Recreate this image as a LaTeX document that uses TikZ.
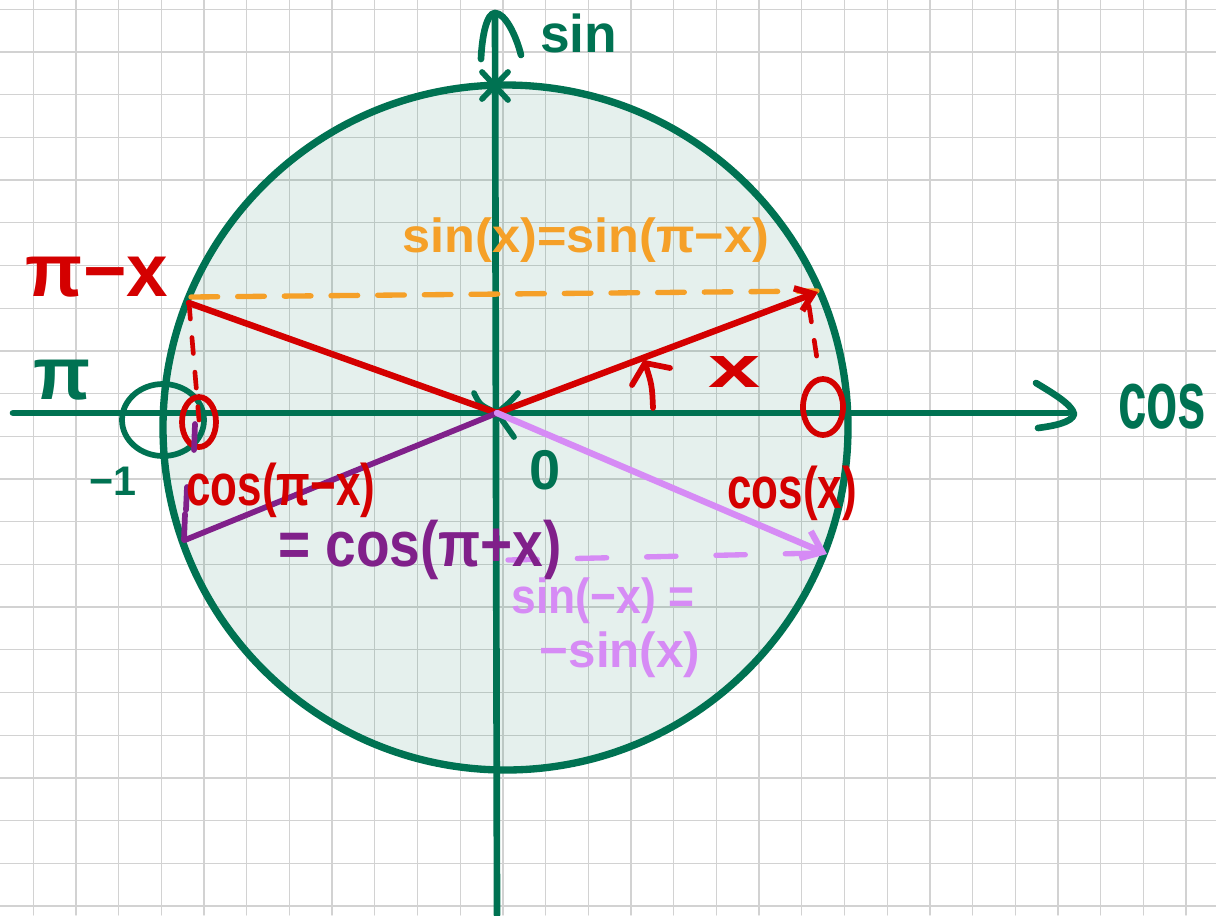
\documentclass[tikz,border=0pt]{standalone}
\usepackage{fontspec}
\setmainfont{Liberation Sans}
\usetikzlibrary{arrows.meta}
\definecolor{dgreen}{RGB}{0,114,82}
\definecolor{hred}{RGB}{212,0,0}
\definecolor{horange}{RGB}{245,160,40}
\definecolor{hpurple}{RGB}{128,32,138}
\definecolor{hlilac}{RGB}{214,139,245}
\definecolor{gridgray}{RGB}{210,210,210}
\newcommand{\hw}[3]{\fontsize{#1}{#1}\selectfont\bfseries\scalebox{#2}[1]{#3}}
\begin{document}
\begin{tikzpicture}[x=0.75pt,y=-0.75pt, line cap=round, line join=round,
  gridline/.style={draw=gridgray, line width=1pt},
  axisline/.style={draw=dgreen, line width=5pt},
  redline/.style={draw=hred, line width=4.8pt},
  reddash/.style={draw=hred, line width=3.5pt, dash pattern=on 12pt off 14pt},
  orangedash/.style={draw=horange, line width=4pt, dash pattern=on 20pt off 15pt},
  purpleline/.style={draw=hpurple, line width=4.3pt},
  lilacline/.style={draw=hlilac, line width=4.8pt},
  lilacdash/.style={draw=hlilac, line width=4pt, dash pattern=on 22pt off 30pt},
  lbl/.style={inner sep=0pt, outer sep=0pt}
]
\useasboundingbox (0,0) rectangle (1216,915);
\clip (0,0) rectangle (1216,915);
\fill[white] (0,0) rectangle (1216,915);
% grid
\foreach \k in {0,...,27} \draw[gridline] ({33.2+42.7*\k},0) -- ({33.2+42.7*\k},915);
\foreach \k in {0,...,21} \draw[gridline] (0,{9.3+42.7*\k}) -- (1216,{9.3+42.7*\k});
% circle
\coordinate (C) at (505.5,427.5);
\fill[dgreen, fill opacity=0.1] (C) circle [radius=256.875pt];
\draw[dgreen, line width=5.5pt] (C) circle [radius=256.875pt];
% axes
\coordinate (O) at (497,413);
\coordinate (xL) at (13,413);
\coordinate (xR) at (1068,413);
\coordinate (yB) at (497,915);
\coordinate (yT) at (495,13);
\draw[axisline] (xL) -- (xR);
\draw[axisline] (yB) -- (yT);
\draw[axisline] (1036,383) .. controls (1056,395) and (1072,405) .. (1074,414) .. controls (1072,423) and (1052,426) .. (1038,428);
\draw[axisline] (481,59) .. controls (482,35) and (487,13) .. (495,13) .. controls (505,13) and (516,35) .. (521,55);
% star on top
\draw[dgreen, line width=4.3pt] (482,72) -- (508,100) (482,99) -- (508,72);
% origin mark
\draw[dgreen, line width=4.3pt] (474,393) .. controls (480,405) .. (O) .. controls (510,402) .. (518,393);
\draw[dgreen, line width=4.3pt] (O) -- (514,437);
% green circle around -1
\draw[dgreen, line width=4.3pt] (163,420) ellipse [x radius=30.75pt, y radius=27pt];
% orange dashed line
\coordinate (oL) at (191,297);
\coordinate (oR) at (817,291);
\draw[orangedash] (oL) -- (oR);
% red lines
\coordinate (P) at (818,292);
\coordinate (Q) at (189,303);
\draw[redline, -{Straight Barb[length=12pt,width=18pt]}] (O) -- (P);
\draw[redline] (O) -- (Q);
\coordinate (qB) at (199,420);
\draw[reddash] (Q) -- (qB);
\coordinate (pT) at (809,306);
\coordinate (pB) at (819,372);
\draw[reddash] (pT) -- (pB);
% red circled points
\draw[hred, line width=4.3pt] (823,407) ellipse [x radius=15pt, y radius=21pt];
\draw[hred, line width=4.3pt] (199,422) ellipse [x radius=12.75pt, y radius=18.75pt];
% angle arrow
\draw[hred, line width=4.3pt] (653,408) .. controls (652,385) .. (645,363);
\draw[hred, line width=4.3pt] (632,385) -- (645,363) -- (670,368);
% purple line
\coordinate (R) at (185,540);
\draw[purpleline] (O) -- (R);
\draw[purpleline] (187,487) -- (186,510) (185,514) -- (184,540) (195,424) -- (194,450);
% lilac arrow
\coordinate (S) at (827,554);
\draw[lilacline, -{Straight Barb[length=14pt,width=22pt]}] (O) -- (S);
\coordinate (lL) at (508,560);
\coordinate (lR) at (820,553);
\draw[lilacdash] (lL) -- (lR);
% labels
\node[lbl, anchor=base west, text=dgreen] (sinlab) at (540,52) {\hw{40}{1}{sin}};
\node[lbl, anchor=base west, text=dgreen] (coslab) at (1118,428) {\hw{62}{0.62}{cos}};
\node[lbl, text=dgreen] (pilab) at (62,380) {\hw{56}{1}{π}};
\node[lbl, text=dgreen] (m1lab) at (113,481) {\hw{31}{1}{−1}};
\node[lbl, text=dgreen] (zerolab) at (545,470) {\hw{42}{1}{0}};
\node[lbl, text=hred] (pimx) at (97,277) {\hw{56}{1}{π−x}};
\node[lbl, text=hred] (xlab) at (735,372) {\hw{44}{1.6}{x}};
\node[lbl, text=hred] (cospimx) at (281,490) {\hw{44}{0.75}{cos(π−x)}};
\node[lbl, text=hred] (cosx) at (792,493) {\hw{44}{0.75}{cos(x)}};
\node[lbl, text=hpurple] (cospipx) at (420,550) {\hw{48}{0.86}{= cos(π+x)}};
\node[lbl, text=horange] (sineq) at (586,240) {\hw{36}{1.05}{sin(x)=sin(π−x)}};
\node[lbl, text=hlilac] (sinm1) at (603,601) {\hw{37}{0.9}{sin(−x) =}};
\node[lbl, text=hlilac] (sinm2) at (620,655) {\hw{37}{1}{−sin(x)}};
\end{tikzpicture}
\end{document}
